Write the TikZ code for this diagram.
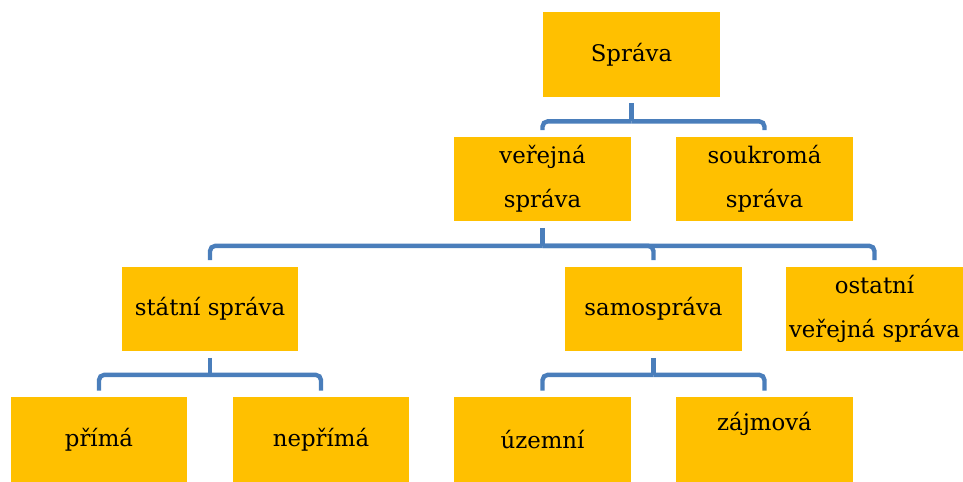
\documentclass[tikz,border=0pt]{standalone}
\usepackage{fontspec}
\setmainfont{DejaVu Serif}
\usetikzlibrary{positioning}
\definecolor{boxgold}{RGB}{255,192,0}
\definecolor{linkblue}{RGB}{74,126,187}

\begin{document}
\begin{tikzpicture}[x=0.02cm,y=-0.02cm]
		\tikzstyle{Node} = [rectangle, minimum width=3.54cm, minimum height=1.7cm, align=center, fill=boxgold, inner sep=0pt, font=\fontsize{13}{25}\selectfont]
		\tikzstyle{link} = [line width=2.5pt, linkblue]
		\tikzstyle{leg} = [link, rounded corners=3pt]
		
		\useasboundingbox (0,0) rectangle (963,482);
		
		% top
		\node (sprava) [Node] at (631.5,54.5) {Správa};
		\node (verej) [Node] at (542.5,179) {veřejná\\správa};
		\node (soukr) [Node] at (764.5,179) {soukromá\\správa};
		
		% middle
		\node (statni) [Node] at (210,309) {státní správa};
		\node (samo) [Node] at (653.5,309) {samospráva};
		\node (ostat) [Node] at (874.5,309) {ostatní\\veřejná správa};
		
		% bottom
		\node (prima) [Node] at (99,439.5) {přímá};
		\node (neprima) [Node] at (321,439.5) {nepřímá};
		\node (uzemni) [Node] at (542.5,439.5) {územní};
		\node (zajm) [Node] at (764.5,439.5) {zájmová\\[-4pt]~};
		
		% stubs
		\draw [link] ([yshift=-0.12cm]sprava.south) -- ++(0,-0.36cm) coordinate (b1);
		\draw [link] ([yshift=-0.12cm]verej.south) -- ++(0,-0.36cm) coordinate (b2);
		\draw [link] ([yshift=-0.12cm]statni.south) -- ++(0,-0.34cm) coordinate (b3);
		\draw [link] ([yshift=-0.12cm]samo.south) -- ++(0,-0.34cm) coordinate (b4);
		
		% legs
		\draw [leg] (b1) -| ([yshift=0.12cm]verej.north);
		\draw [leg] (b1) -| ([yshift=0.12cm]soukr.north);
		
		\draw [leg] (b2) -| ([yshift=0.12cm]statni.north);
		\draw [leg] (b2) -| ([yshift=0.12cm]samo.north);
		\draw [leg] (b2) -| ([yshift=0.12cm]ostat.north);
		
		\draw [leg] (b3) -| ([yshift=0.12cm]prima.north);
		\draw [leg] (b3) -| ([yshift=0.12cm]neprima.north);
		
		\draw [leg] (b4) -| ([yshift=0.12cm]uzemni.north);
		\draw [leg] (b4) -| ([yshift=0.12cm]zajm.north);
\end{tikzpicture}
\end{document}
